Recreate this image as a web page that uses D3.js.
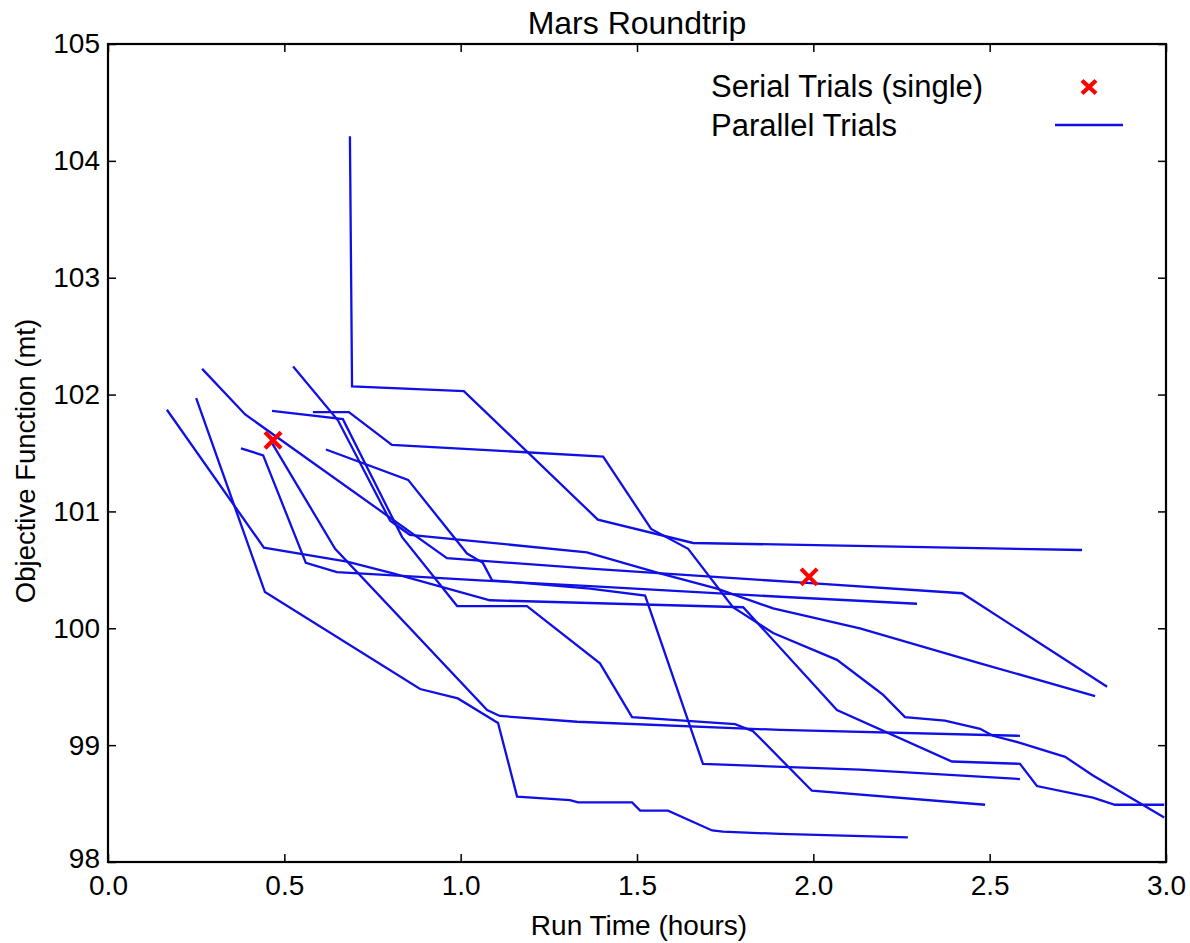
<!DOCTYPE html>
<html>
<head>
<meta charset="utf-8">
<script src="https://cdn.jsdelivr.net/npm/d3@7"></script>
<style>
  html, body { margin: 0; padding: 0; background: #fff; }
  svg { display: block; }
  text { font-family: "Liberation Sans", Arial, Helvetica, sans-serif; fill: #000; }
</style>
</head>
<body>
<svg id="chart" width="1190" height="943"></svg>
<script>
// ---------------- data ----------------
const chartTitle = "Mars Roundtrip";
const xLabel = "Run Time (hours)";
const yLabel = "Objective Function (mt)";
const xTicks = [0.0, 0.5, 1.0, 1.5, 2.0, 2.5, 3.0];
const yTicks = [98, 99, 100, 101, 102, 103, 104, 105];
const legendLabels = ["Serial Trials (single)", "Parallel Trials"];

// serial trials (single)
const serialX = [0.468, 1.988];
const serialY = [101.61, 100.44];

// parallel trials
const trial1X = [0.686, 0.692, 1.009, 1.389, 1.659, 2.762];
const trial1Y = [104.21, 102.07, 102.03, 100.93, 100.73, 100.67];

const trial2X = [0.167, 0.442, 0.678, 0.808, 1.083, 1.801, 2.067, 2.393, 2.586, 2.634, 2.793, 2.855, 2.995];
const trial2Y = [101.87, 100.69, 100.57, 100.47, 100.24, 100.18, 99.30, 98.86, 98.84, 98.65, 98.55, 98.49, 98.49];

const trial3X = [0.250, 0.445, 0.885, 0.992, 1.106, 1.160, 1.310, 1.333, 1.486, 1.509, 1.588, 1.713, 1.744, 1.906, 2.268];
const trial3Y = [101.97, 100.31, 99.48, 99.40, 99.19, 98.56, 98.53, 98.51, 98.51, 98.44, 98.44, 98.27, 98.26, 98.24, 98.21];

const trial4X = [0.267, 0.389, 0.961, 1.367, 1.971, 2.422, 2.833];
const trial4Y = [102.22, 101.83, 100.60, 100.51, 100.39, 100.30, 99.50];

const trial5X = [0.377, 0.440, 0.561, 0.649, 1.055, 1.367, 1.906, 2.294];
const trial5Y = [101.54, 101.48, 100.56, 100.48, 100.41, 100.36, 100.27, 100.21];

const trial6X = [0.465, 0.666, 0.834, 0.990, 1.188, 1.395, 1.486, 1.778, 1.829, 1.996, 2.487];
const trial6Y = [101.86, 101.79, 100.78, 100.19, 100.19, 99.70, 99.24, 99.18, 99.12, 98.61, 98.49];

const trial7X = [0.525, 0.652, 0.800, 0.856, 1.358, 1.565, 1.727, 1.886, 2.132, 2.473, 2.799];
const trial7Y = [102.24, 101.78, 100.92, 100.80, 100.65, 100.47, 100.34, 100.17, 100.00, 99.70, 99.42];

const trial8X = [0.581, 0.683, 0.805, 1.404, 1.540, 1.645, 1.772, 1.886, 2.067, 2.181, 2.198, 2.260, 2.373, 2.473, 2.509, 2.586, 2.714, 2.793, 2.995];
const trial8Y = [101.85, 101.85, 101.57, 101.47, 100.85, 100.68, 100.18, 99.96, 99.73, 99.47, 99.43, 99.24, 99.21, 99.14, 99.08, 99.02, 98.90, 98.74, 98.38];

const trial9X = [0.618, 0.851, 1.018, 1.063, 1.089, 1.367, 1.523, 1.687, 2.132, 2.586];
const trial9Y = [101.53, 101.27, 100.64, 100.56, 100.41, 100.34, 100.28, 98.84, 98.79, 98.71];

const trial10X = [0.466, 0.644, 1.075, 1.111, 1.330, 1.906, 2.586];
const trial10Y = [101.58, 100.68, 99.30, 99.25, 99.20, 99.13, 99.08];

const trialsX = [trial1X, trial2X, trial3X, trial4X, trial5X, trial6X, trial7X, trial8X, trial9X, trial10X];
const trialsY = [trial1Y, trial2Y, trial3Y, trial4Y, trial5Y, trial6Y, trial7Y, trial8Y, trial9Y, trial10Y];

// ---------------- layout ----------------
const L = 108, R = 1166, T = 44, B = 862;
const lineColor = "#1010e6";
const markColor = "#ff0000";

const svg = d3.select("#chart");
const x = d3.scaleLinear().domain([0, 3]).range([L, R]);
const y = d3.scaleLinear().domain([98, 105]).range([B, T]);

svg.append("defs").append("clipPath").attr("id", "plotclip")
  .append("rect").attr("x", L).attr("y", T).attr("width", R - L).attr("height", B - T);

// lines
const lineGen = d3.line().x(d => x(d[0])).y(d => y(d[1]));
const plot = svg.append("g").attr("clip-path", "url(#plotclip)");
trialsX.forEach((xs, i) => {
  const pts = xs.map((v, j) => [v, trialsY[i][j]]);
  plot.append("path").datum(pts)
    .attr("d", lineGen)
    .attr("fill", "none")
    .attr("stroke", lineColor)
    .attr("stroke-width", 2.3)
    .attr("stroke-linejoin", "miter");
});

// serial markers
function xMark(g, cx, cy, hw, hh, sw) {
  g.append("path")
    .attr("d", `M${cx - hw},${cy - hh}L${cx + hw},${cy + hh}M${cx - hw},${cy + hh}L${cx + hw},${cy - hh}`)
    .attr("stroke", markColor).attr("stroke-width", sw).attr("fill", "none");
}
serialX.forEach((v, i) => xMark(plot, x(v), y(serialY[i]), 8, 8, 4.2));

// axes
const tickLen = 8;
const fontTick = 28;
const axB = svg.append("g").attr("transform", `translate(0,${B})`)
  .call(d3.axisBottom(x).tickValues(xTicks).tickSize(-tickLen).tickPadding(13).tickFormat(d3.format(".1f")));
const axT = svg.append("g").attr("transform", `translate(0,${T})`)
  .call(d3.axisTop(x).tickValues(xTicks).tickSize(-tickLen).tickFormat(""));
const axL = svg.append("g").attr("transform", `translate(${L},0)`)
  .call(d3.axisLeft(y).tickValues(yTicks).tickSize(-tickLen).tickPadding(8).tickFormat(d3.format("d")));
const axR = svg.append("g").attr("transform", `translate(${R},0)`)
  .call(d3.axisRight(y).tickValues(yTicks).tickSize(-tickLen).tickFormat(""));
[axB, axT, axL, axR].forEach(a => {
  a.select(".domain").remove();
  a.selectAll(".tick line").attr("stroke", "#000").attr("stroke-width", 1.5);
  a.selectAll(".tick text").attr("font-size", fontTick).attr("font-family", "Liberation Sans, Arial, sans-serif").attr("fill", "#000");
});
// lift the lowest y label slightly so it clears the first x label
axL.selectAll(".tick text").filter(d => d === 98).attr("dy", "0.2em");

// frame
svg.append("rect").attr("x", L).attr("y", T).attr("width", R - L).attr("height", B - T)
  .attr("fill", "none").attr("stroke", "#000").attr("stroke-width", 2.2);

// title and labels
svg.append("text").attr("x", (L + R) / 2).attr("y", 34).attr("text-anchor", "middle")
  .attr("font-size", 32).text(chartTitle);
svg.append("text").attr("x", (L + R) / 2 + 2).attr("y", 935).attr("text-anchor", "middle")
  .attr("font-size", 28).text(xLabel);
svg.append("text").attr("transform", `translate(35,${(T + B) / 2 + 8}) rotate(-90)`)
  .attr("text-anchor", "middle").attr("font-size", 27.5).text(yLabel);

// legend
const leg = svg.append("g");
leg.append("text").attr("x", 711).attr("y", 97).attr("font-size", 31).text(legendLabels[0]);
leg.append("text").attr("x", 711).attr("y", 136).attr("font-size", 31).text(legendLabels[1]);
xMark(leg, 1089, 87, 7, 6.5, 4.2);
leg.append("line").attr("x1", 1055).attr("x2", 1123).attr("y1", 125).attr("y2", 125)
  .attr("stroke", lineColor).attr("stroke-width", 2.6);
</script>
</body>
</html>
